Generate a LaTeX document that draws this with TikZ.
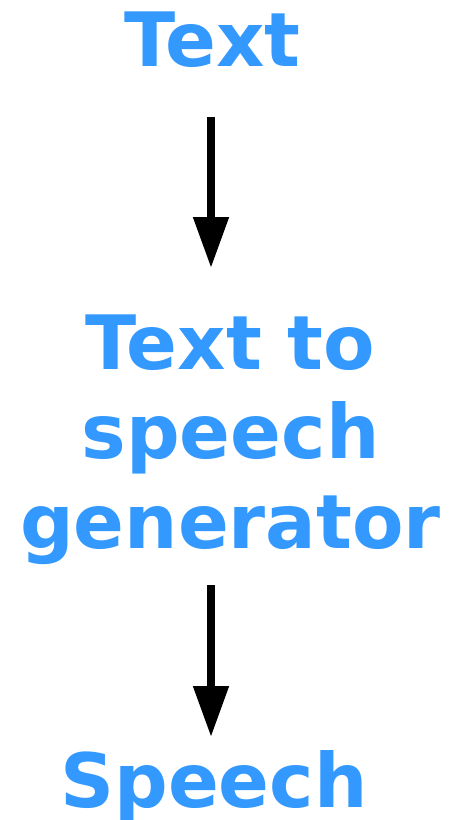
\documentclass[tikz,border=0pt]{standalone}
\usepackage{fontspec}
\setmainfont{DejaVu Sans}
\usetikzlibrary{arrows.meta}
\definecolor{lbl}{RGB}{51,153,255}
\tikzset{
  lab/.style={text=lbl, font=\fontsize{75}{89.5}\selectfont\bfseries, inner sep=0pt, anchor=base, align=center},
  arr/.style={line width=8pt, -{Triangle[width=34pt,length=51pt]}}
}
\begin{document}
\begin{tikzpicture}[x=1pt,y=1pt]
\useasboundingbox (0,0) rectangle (459,-820);
\node[lab] (t) at (212.5,-66) {Text};
\node[lab] (g) at (230.5,-548) {Text to\\speech\\generator};
\node[lab] (s) at (214,-807) {Speech};
\coordinate (a1s) at (211,-117);
\coordinate (a1e) at (211,-268);
\coordinate (a2s) at (211,-585);
\coordinate (a2e) at (211,-737);
\draw[arr] (a1s) -- (a1e);
\draw[arr] (a2s) -- (a2e);
\end{tikzpicture}
\end{document}
